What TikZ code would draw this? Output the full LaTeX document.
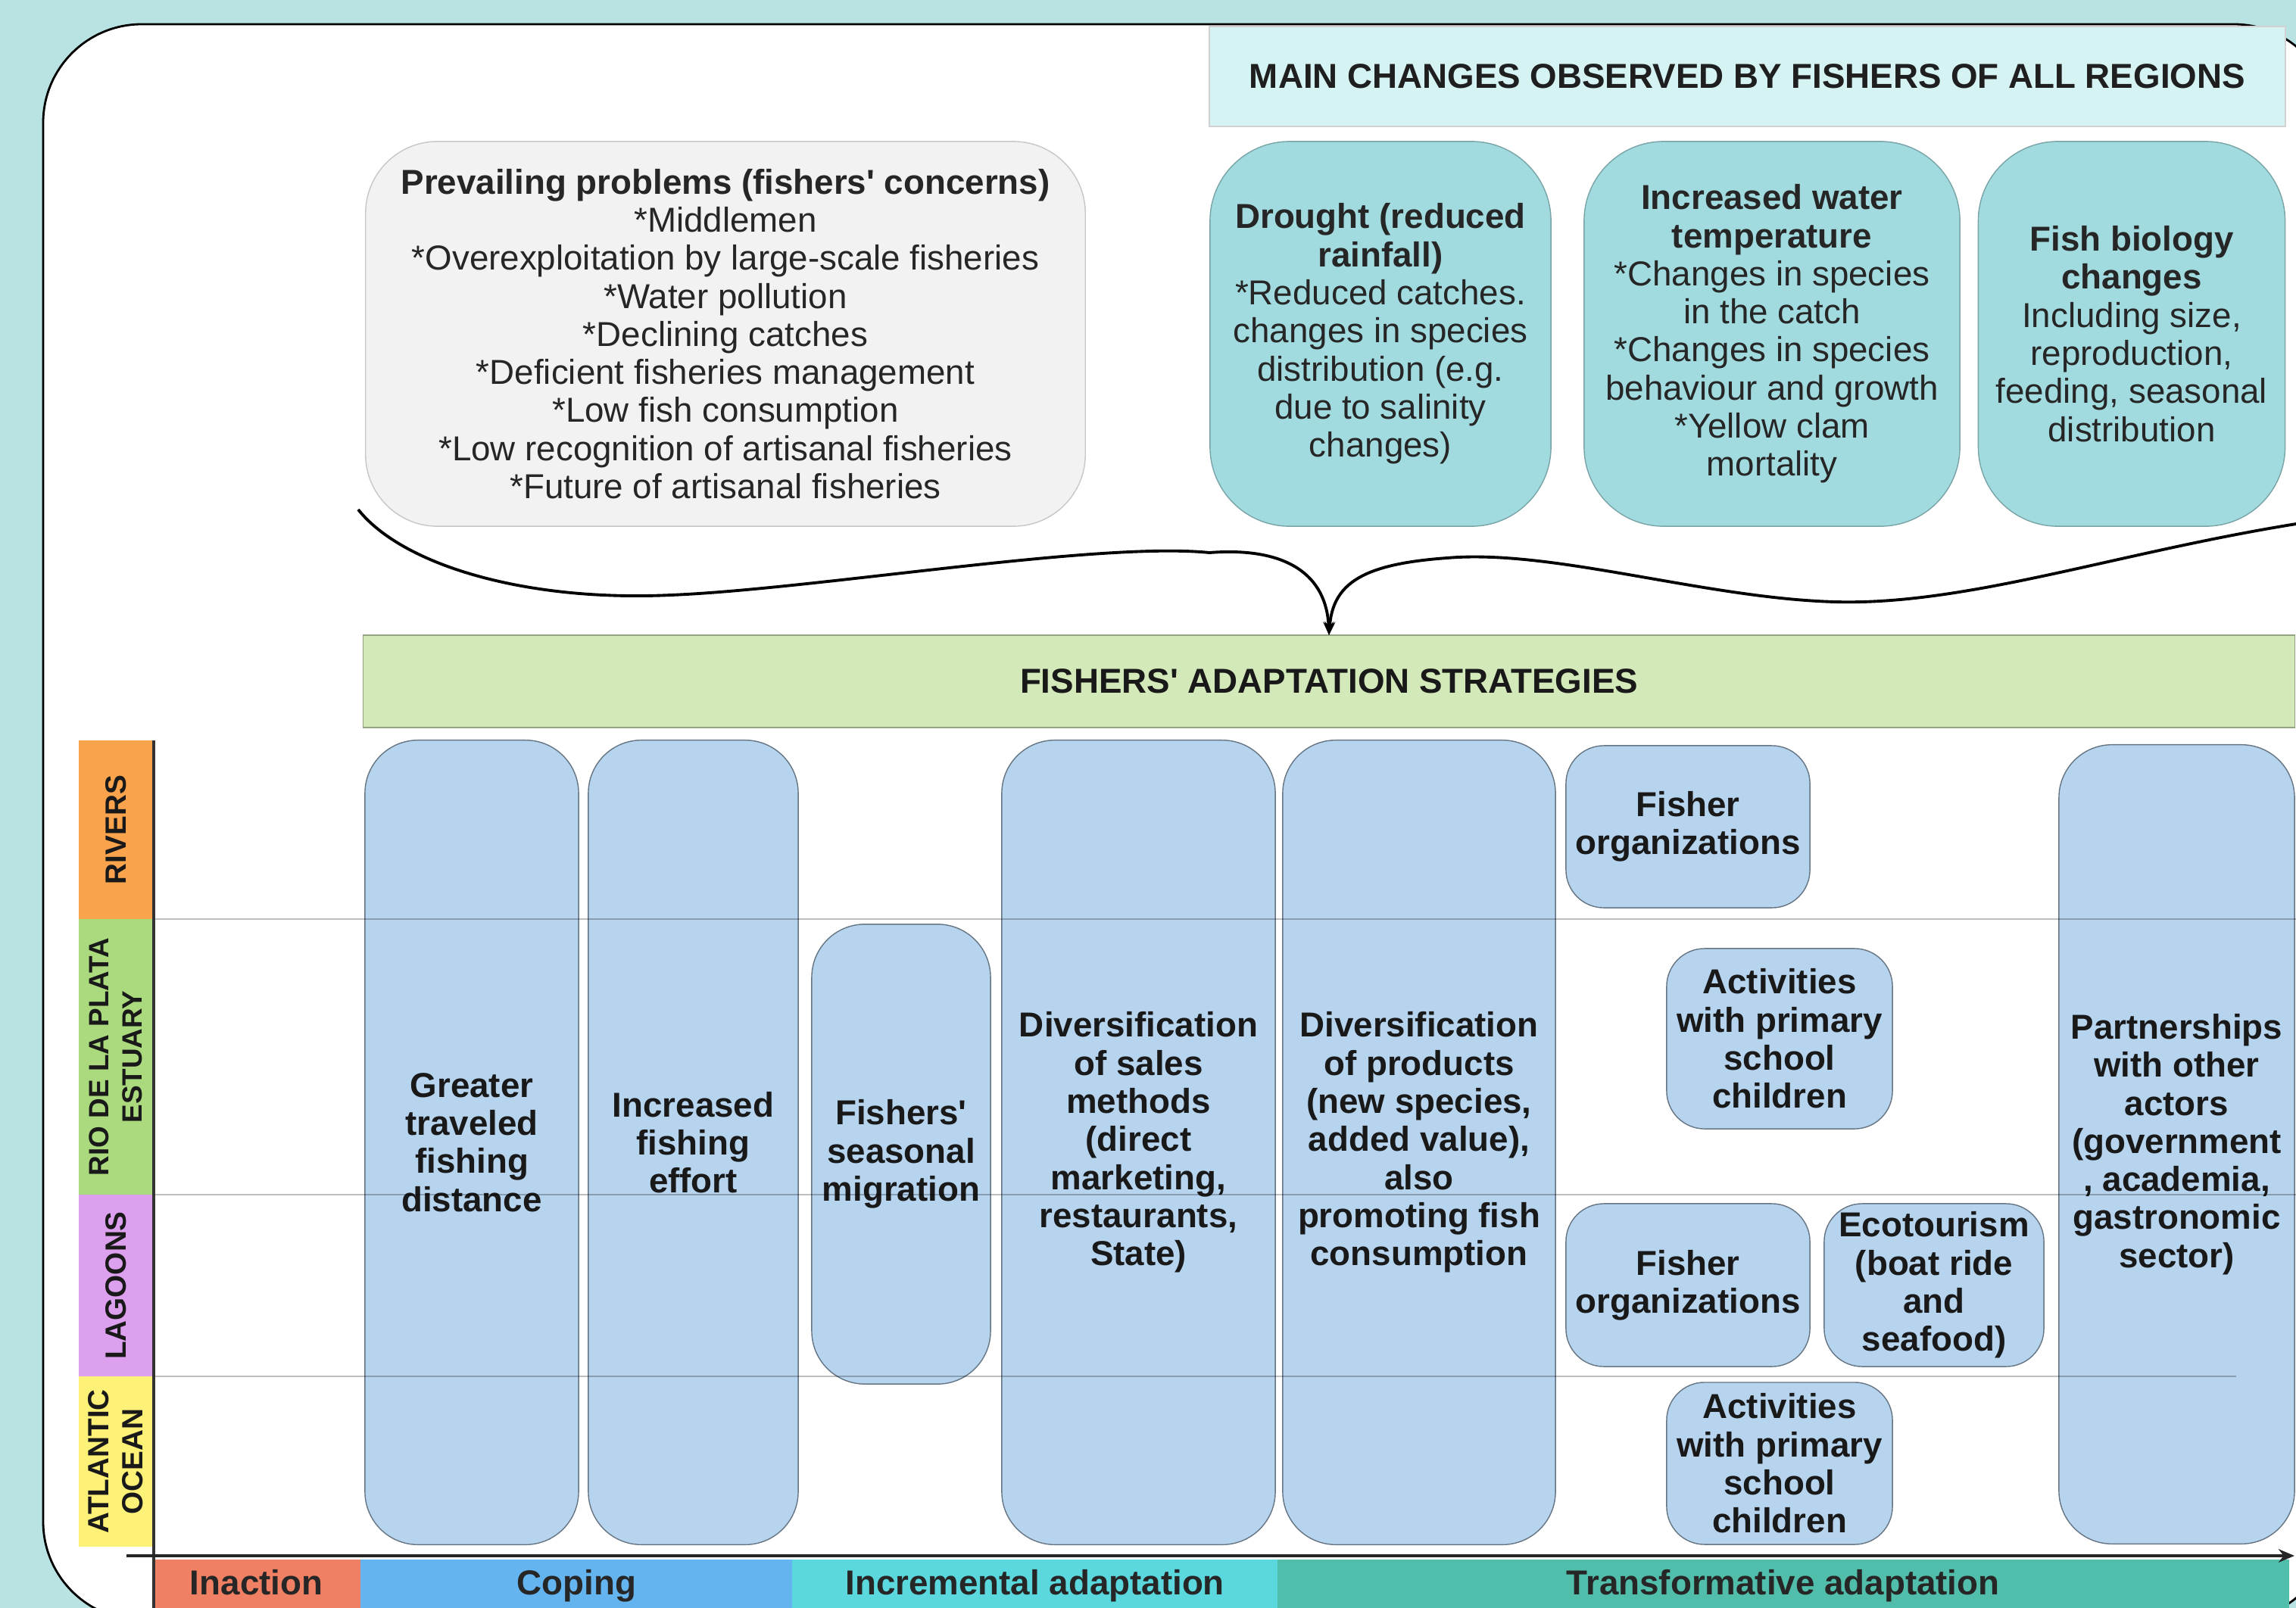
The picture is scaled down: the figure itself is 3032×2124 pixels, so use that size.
\documentclass[tikz,border=0pt]{standalone}
\usepackage{fontspec}
\setmainfont{Liberation Sans}
\usepackage{tikz}
\usetikzlibrary{positioning,arrows.meta}
\definecolor{bgteal}{RGB}{185,227,226}
\definecolor{hdrfill}{RGB}{214,243,244}
\definecolor{chgfill}{RGB}{162,219,223}
\definecolor{probfill}{RGB}{242,242,242}
\definecolor{stratfill}{RGB}{183,212,239}
\definecolor{barfill}{RGB}{211,233,185}
\definecolor{colriv}{RGB}{249,163,76}
\definecolor{colrio}{RGB}{170,218,125}
\definecolor{collag}{RGB}{221,160,238}
\definecolor{colatl}{RGB}{253,241,120}
\definecolor{colinact}{RGB}{240,128,100}
\definecolor{colcope}{RGB}{100,180,240}
\definecolor{colincr}{RGB}{90,216,222}
\definecolor{coltrans}{RGB}{80,190,170}
\newcommand{\bodyfont}{\fontsize{13}{14.3}\selectfont}
\newcommand{\labfont}{\fontsize{11}{12.8}\selectfont}

\begin{document}
\begin{tikzpicture}[x=0.01cm,y=-0.01cm,
  every node/.style={outer sep=0pt},
  txt/.style={font=\bodyfont,text=black!85,align=center,inner sep=2pt},
  hdr/.style={font=\bodyfont\bfseries,text=black!88,fill=hdrfill,draw=black!18},
  prob/.style={txt,fill=probfill,draw=black!22,rounded corners=0.95cm},
  chg/.style={txt,fill=chgfill,draw=chgfill!75!black,rounded corners=1.05cm,minimum height=5.08cm},
  stratbox/.style={txt,font=\bodyfont\bfseries,text=black!90,fill=stratfill,draw=stratfill!55!black,
                   rounded corners=0.7cm},
  smallbox/.style={stratbox,rounded corners=0.5cm},
  adaptbar/.style={font=\bodyfont\bfseries,text=black!90,fill=barfill,draw=barfill!70!black},
  region/.style={font=\labfont\bfseries,text=black!90,align=center,rotate=90,minimum height=0.98cm,inner sep=1pt},
  band/.style={font=\bodyfont\bfseries,text=black!85,minimum height=0.7cm,anchor=west,
               text height=9.4pt,text depth=2.7pt},
  sepline/.style={draw=black,opacity=0.25,line width=0.7pt},
  brace/.style={line width=1.1pt,-{Stealth[length=5pt,width=4pt]}},
  axisarrow/.style={line width=1.3pt,draw=black!85,-{Stealth[length=6pt,width=5pt]}}
]
\useasboundingbox (0,0) rectangle (3032,2124);
\fill[bgteal] (0,0) rectangle (3032,2124);
\draw[fill=white,line width=0.8pt,rounded corners=1.3cm] (57,32) rectangle (3080,2140);

% observed changes and concerns
\node[hdr,anchor=north west,minimum width=14.2cm,minimum height=1.32cm] (main) at (1597,35)
  {MAIN CHANGES OBSERVED BY FISHERS OF ALL REGIONS};
\node[prob,minimum width=9.5cm,minimum height=5.08cm] (prob) at (958,441)
  {\textbf{Prevailing problems (fishers\textquotesingle{} concerns)}\\{}*Middlemen\\{}*Overexploitation by large-scale fisheries\\{}*Water pollution\\{}*Declining catches\\{}*Deficient fisheries management\\{}*Low fish consumption\\{}*Low recognition of artisanal fisheries\\{}*Future of artisanal fisheries};
\node[chg,minimum width=4.5cm] (drought) at (1823,441)
  {\textbf{Drought (reduced}\\\textbf{rainfall)}\\{}*Reduced catches.\\changes in species\\distribution (e.g.\\due to salinity\\changes)};
\node[chg,minimum width=4.96cm] (temp) at (2340,441)
  {\textbf{Increased water}\\\textbf{temperature}\\{}*Changes in species\\in the catch\\{}*Changes in species\\behaviour and growth\\{}*Yellow clam\\mortality};
\node[chg,minimum width=4.05cm] (bio) at (2815,441)
  {\textbf{Fish biology}\\\textbf{changes}\\Including size,\\reproduction,\\feeding, seasonal\\distribution};

\node[adaptbar,minimum width=25.49cm,minimum height=1.22cm] (adapt) at (1755,900)
  {FISHERS\textquotesingle{} ADAPTATION STRATEGIES};

% brace into the strategies bar
\coordinate (bl) at (473,673);
\coordinate (br) at (3045,690);
\draw[brace] (bl) .. controls (530,745) and (690,795) .. (886,786)
  .. controls (1080,778) and (1450,715) .. (1597,730)
  .. controls (1700,722) and (1752,760) .. (adapt.north);
\draw[brace] (br) .. controls (2800,728) and (2600,800) .. (2423,795)
  .. controls (2250,790) and (2050,725) .. (1911,737)
  .. controls (1800,745) and (1760,770) .. (adapt.north);

% regions
\node[region,fill=colriv,minimum width=2.36cm] (rivers) at (153,1096) {RIVERS};
\node[region,fill=colrio,minimum width=3.64cm,font=\fontsize{10.5}{12.5}\selectfont\bfseries] (rio) at (153,1396)
  {RIO DE LA PLATA\\ESTUARY};
\node[region,fill=collag,minimum width=2.40cm] (lagoons) at (153,1698) {LAGOONS};
\node[region,fill=colatl,minimum width=2.25cm] (atlantic) at (153,1930.5) {ATLANTIC\\OCEAN};

% strategies
\node[stratbox,minimum width=2.82cm,minimum height=10.62cm] (dist) at (623,1509)
  {Greater\\traveled\\fishing\\distance};
\node[stratbox,minimum width=2.77cm,minimum height=10.62cm] (effort) at (915.5,1509)
  {Increased\\fishing\\effort};
\node[stratbox,minimum width=2.36cm,minimum height=6.07cm] (migr) at (1190,1524.5)
  {Fishers\textquotesingle\\seasonal\\migration};
\node[stratbox,minimum width=3.61cm,minimum height=10.62cm] (sales) at (1503.5,1509)
  {Diversification\\of sales\\methods\\(direct\\marketing,\\restaurants,\\State)};
\node[stratbox,minimum width=3.60cm,minimum height=10.62cm] (prod) at (1874,1509)
  {Diversification\\of products\\(new species,\\added value),\\also\\promoting fish\\consumption};
\node[smallbox,minimum width=3.22cm,minimum height=2.14cm] (orgA) at (2229,1092) {Fisher\\organizations};
\node[smallbox,minimum width=2.98cm,minimum height=2.38cm] (schoolA) at (2350,1372)
  {Activities\\with primary\\school\\children};
\node[smallbox,minimum width=3.22cm,minimum height=2.15cm] (orgB) at (2229,1697.5) {Fisher\\organizations};
\node[smallbox,minimum width=2.90cm,minimum height=2.15cm] (eco) at (2554,1697.5)
  {Ecotourism\\(boat ride\\and\\seafood)};
\node[smallbox,minimum width=2.98cm,minimum height=2.14cm] (schoolB) at (2350,1933)
  {Activities\\with primary\\school\\children};
\node[stratbox,minimum width=3.11cm,minimum height=10.55cm] (partner) at (2874.5,1511.5)
  {Partnerships\\with other\\actors\\(government\\, academia,\\gastronomic\\sector)};

% region separators
\coordinate (rgt) at (3032,0);
\coordinate (gend) at (2953,0);
\draw[sepline] (rivers.south west) -- (rivers.south west -| rgt);
\draw[sepline] (rio.south west) -- (rio.south west -| rgt);
\draw[sepline] (lagoons.south west) -- (lagoons.south west -| gend);

% response scale
\node[band,fill=colinact,minimum width=2.75cm] (inact) at (201,2095) {Inaction};
\node[band,fill=colcope,minimum width=5.70cm,right=0pt of inact] (cope) {Coping};
\node[band,fill=colincr,minimum width=6.40cm,right=0pt of cope] (incr) {Incremental adaptation};
\node[band,fill=coltrans,minimum width=13.35cm,right=0pt of incr] (trans) {Transformative adaptation};

\coordinate (ay0) at (203,978);
\coordinate (ay1) at (203,2130);
\coordinate (ax0) at (167,2055);
\coordinate (ax1) at (3030,2055);
\draw[line width=0.9pt,black!80] (ay0) -- (ay1);
\draw[axisarrow] (ax0) -- (ax1);
\end{tikzpicture}
\end{document}
